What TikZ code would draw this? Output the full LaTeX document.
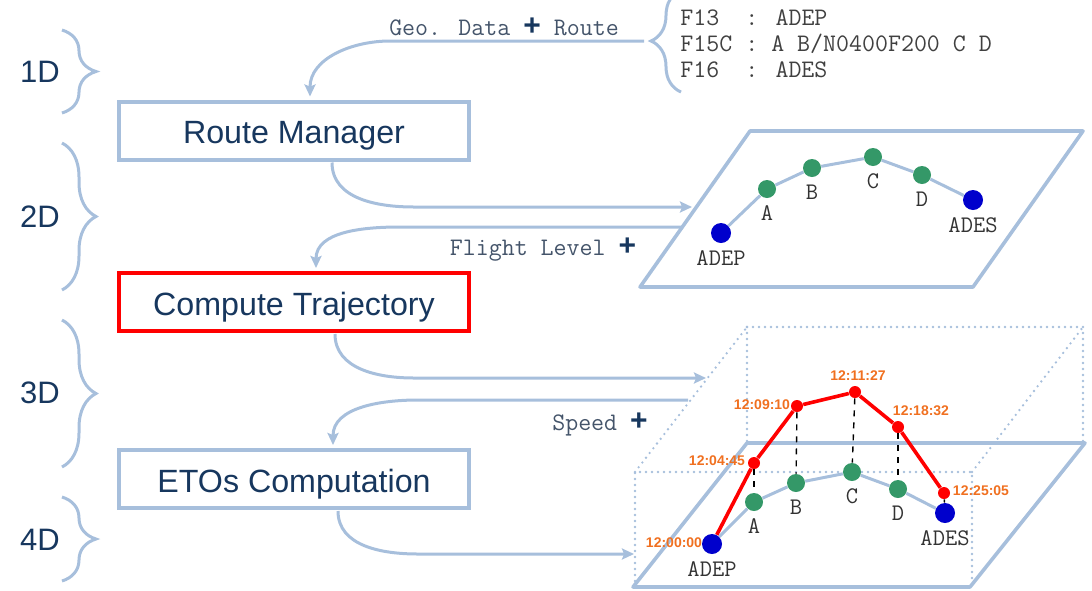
\documentclass[tikz,border=0pt]{standalone}
\usepackage{fontspec}
\setmainfont{Liberation Sans}
\usetikzlibrary{arrows.meta, calc, decorations.pathreplacing}
\definecolor{boxblue}{RGB}{167,191,220}
\definecolor{navy}{RGB}{23,55,94}
\definecolor{slate}{RGB}{68,84,106}
\definecolor{dotgreen}{RGB}{52,152,104}
\definecolor{dotblue}{RGB}{0,0,204}
\definecolor{timeorange}{RGB}{240,112,32}
\newcommand{\plusmark}{{\color{navy}\normalfont\bfseries\fontsize{15}{15}\selectfont+}}

\begin{document}
\begin{tikzpicture}[x=0.5pt, y=0.5pt,
		procbox/.style={draw=boxblue, line width=2pt, minimum width=175pt, minimum height=29pt, text height=13pt, text depth=0pt, text=navy, font=\fontsize{16.1}{16.1}\selectfont},
		flow/.style={boxblue, line width=1.5pt, -{Stealth[length=6pt, width=5.5pt, inset=1pt]}},
		plane/.style={boxblue, line width=1.8pt, line join=round},
		hidden/.style={boxblue, line width=1.3pt, dash pattern=on 0pt off 3pt, line cap=round},
		track/.style={boxblue, line width=1.5pt},
		gdot/.style={circle, fill=dotgreen, inner sep=0pt, minimum size=9pt},
		bdot/.style={circle, fill=dotblue, inner sep=0pt, minimum size=10pt},
		rdot/.style={circle, fill=red, inner sep=0pt, minimum size=6pt},
		wplab/.style={font=\ttfamily\fontsize{11.9}{11.9}\selectfont, text=black!80, label distance=0pt},
		timelab/.style={font=\bfseries\fontsize{7}{7}\selectfont, text=timeorange, inner sep=0pt},
		dimlab/.style={text=navy, font=\fontsize{15.5}{15.5}\selectfont},
		monolab/.style={font=\ttfamily\fontsize{12.6}{12.6}\selectfont, text=slate},
		brc/.style={decorate, decoration={brace, amplitude=17pt}, boxblue, line width=1.5pt}]
	\useasboundingbox (0,0) rectangle (1092,-590);

	% dimensions
	\node[dimlab] (d1) at (40,-72) {1D};
	\node[dimlab] (d2) at (40,-217) {2D};
	\node[dimlab] (d3) at (40,-393) {3D};
	\node[dimlab] (d4) at (40,-540) {4D};
	\draw[brc] (62,-30) -- (62,-113);
	\draw[brc] (62,-143) -- (62,-290);
	\draw[brc] (62,-320) -- (62,-467);
	\draw[brc] (62,-497) -- (62,-581);

	% processes
	\node[procbox] (rtman) at (294,-130.5) {Route Manager};
	\node[procbox, draw=red] (comptraj) at (294,-302) {Compute Trajectory};
	\node[procbox] (etocomp) at (294,-479) {ETOs Computation};

	% flight plan fields
	\node[monolab, anchor=west, inner sep=0pt, text=black!75] (f13) at (680,-18) {F13\ \ : ADEP};
	\node[monolab, anchor=west, inner sep=0pt, text=black!75] (f15) at (680,-44) {F15C : A B/N0400F200 C D};
	\node[monolab, anchor=west, inner sep=0pt, text=black!75] (f16) at (680,-70) {F16\ \ : ADES};
	\draw[brc, decoration={amplitude=15pt}] (681,-92) -- (681,10);
	\coordinate (src) at (644,-41);

	% 2D plane
	\draw[plane] (640,-287) -- (750,-131) -- (1083,-131) -- (973,-287) -- cycle;
	\coordinate (in2) at (692,-207);
	\coordinate (out2) at (683,-227);
	\node[bdot, label={[wplab]below:ADEP}] (p0) at (721,-233) {};
	\node[gdot, label={[wplab]below:A}] (p1) at (767,-189) {};
	\node[gdot, label={[wplab]below:B}] (p2) at (812,-168) {};
	\node[gdot, label={[wplab]below:C}] (p3) at (873,-157) {};
	\node[gdot, label={[wplab]below:D}] (p4) at (922,-175) {};
	\node[bdot, label={[wplab]below:ADES}] (p5) at (973,-200) {};
	\draw[track] (p0) -- (p1) -- (p2) -- (p3) -- (p4) -- (p5);

	% 3D / 4D box
	\draw[hidden] (747,-327) -- (1083,-327) -- (1083,-443);
	\draw[hidden] (747,-327) -- (747,-443);
	\draw[hidden] (635,-472) -- (747,-327);
	\draw[hidden] (972,-472) -- (1083,-327);
	\draw[hidden] (635,-587) -- (635,-472) -- (972,-472) -- (972,-587);
	\draw[plane] (633,-587) -- (747,-443) -- (1085,-443) -- (970,-587) -- cycle;
	\coordinate (in3) at (706,-378);
	\coordinate (out3) at (688,-400);
	\coordinate (in4) at (634,-554);
	\node[bdot, label={[wplab]below:ADEP}] (g0) at (712,-544) {};
	\node[gdot, label={[wplab]below:A}] (g1) at (754,-502) {};
	\node[gdot, label={[wplab]below:B}] (g2) at (796,-483) {};
	\node[gdot, label={[wplab]below:C}] (g3) at (852,-472) {};
	\node[gdot, label={[wplab]below:D}] (g4) at (898,-489) {};
	\node[bdot, label={[wplab]below:ADES}] (g5) at (945,-513) {};
	\draw[track] (g0) -- (g1) -- (g2) -- (g3) -- (g4) -- (g5);
	\node[rdot] (r1) at (754,-463) {};
	\node[rdot] (r2) at (797,-406) {};
	\node[rdot] (r3) at (855,-392) {};
	\node[rdot] (r4) at (898,-427) {};
	\node[rdot] (r5) at (944,-493) {};
	\foreach \i in {1,...,5}
		\draw[black, dashed, line width=0.7pt] (r\i) -- (g\i);
	\draw[red, line width=1.8pt, line join=round] (g0) -- (r1) -- (r2) -- (r3) -- (r4) -- (r5);
	\node[timelab] (t0) at (674,-543) {12:00:00};
	\node[timelab] (t1) at (717,-461) {12:04:45};
	\node[timelab] (t2) at (762,-405) {12:09:10};
	\node[timelab] (t3) at (858,-376) {12:11:27};
	\node[timelab] (t4) at (921,-411) {12:18:32};
	\node[timelab] (t5) at (981,-491) {12:25:05};

	% data flow
	\node[monolab] (geo) at (504,-27) {Geo. Data \plusmark{} Route};
	\node[monolab] (flvl) at (543,-250) {Flight Level \plusmark};
	\node[monolab] (spd) at (600,-424) {Speed \plusmark};
	\draw[flow] (src) -- (390,-41) to[out=180, in=90] ($(rtman.north)+(16,3)$);
	\draw[flow] ($(rtman.south)+(38,-1)$) to[out=-90, in=180] (414,-207) -- (in2);
	\draw[flow] (out2) -- (400,-227) to[out=180, in=90] ($(comptraj.north)+(22,3)$);
	\draw[flow] ($(comptraj.south)+(41,-1)$) to[out=-90, in=180] (414,-378) -- (in3);
	\draw[flow] (out3) -- (418,-400) to[out=180, in=90] ($(etocomp.north)+(39,3)$);
	\draw[flow] ($(etocomp.south)+(44,-1)$) to[out=-90, in=180] (418,-554) -- (in4);
\end{tikzpicture}
\end{document}
